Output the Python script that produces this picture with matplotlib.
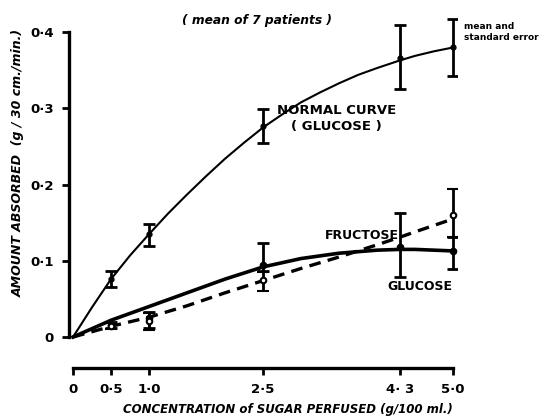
import matplotlib
matplotlib.use('Agg')
import matplotlib.pyplot as plt

# 数据：浓度 (g/100 ml) 与吸收量 (g/30 cm/min)
conc = [0.5, 1.0, 2.5, 4.3, 5.0]

# 正常曲线 (葡萄糖) 均值与误差上下限
normal_mean = [0.076, 0.135, 0.277, 0.366, 0.381]
normal_lo = [0.066, 0.119, 0.255, 0.325, 0.343]
normal_hi = [0.087, 0.148, 0.299, 0.409, 0.417]

# 患者 葡萄糖
glucose_mean = [0.016, 0.025, 0.094, 0.118, 0.113]
glucose_lo = [0.012, 0.012, 0.086, 0.079, 0.089]
glucose_hi = [0.020, 0.033, 0.123, 0.163, 0.131]

# 患者 果糖
fructose_x = [0.5, 1.0, 2.5, 5.0]
fructose_mean = [0.014, 0.021, 0.075, 0.160]
fructose_lo = [0.011, 0.009, 0.060, 0.131]
fructose_hi = [0.018, 0.031, 0.085, 0.194]

# 手绘拟合曲线
normal_cx = [0, 0.25, 0.5, 0.75, 1.0, 1.25, 1.5, 1.75, 2.0, 2.25, 2.5, 2.75, 3.0,
             3.25, 3.5, 3.75, 4.0, 4.3, 4.5, 4.75, 5.0]
normal_curve = [0, 0.039, 0.076, 0.107, 0.135, 0.162, 0.187, 0.211, 0.234, 0.255, 0.275,
                0.292, 0.308, 0.321, 0.333, 0.344, 0.353, 0.363, 0.369, 0.375, 0.380]
curve_x = [0, 0.5, 1.0, 1.5, 2.0, 2.5, 3.0, 3.5, 4.0, 4.3, 4.5, 5.0]
glucose_curve = [0, 0.022, 0.040, 0.058, 0.076, 0.092, 0.103, 0.110, 0.114, 0.115, 0.115, 0.113]
fructose_curve = [0, 0.014, 0.026, 0.041, 0.058, 0.074, 0.090, 0.105, 0.121, 0.131, 0.138, 0.155]

xticks = [0, 0.5, 1.0, 2.5, 4.3, 5.0]
xtick_labels = ['0', '0·5', '1·0', '2·5', '4· 3', '5·0']
yticks = [0, 0.1, 0.2, 0.3, 0.4]
ytick_labels = ['0', '0·1', '0·2', '0·3', '0·4']

plt.rcParams['font.family'] = ['DejaVu Sans']

fig = plt.figure(figsize=(5.42, 4.17), dpi=100)
ax = fig.add_axes([0.1277, 0.1187, 0.7151, 0.8405])
ax.set_xlim(-0.05, 5.05)
ax.set_ylim(-0.04, 0.42)


def err(mean, lo, hi):
    return [[m - l for m, l in zip(mean, lo)], [h - m for m, h in zip(mean, hi)]]


# 曲线
ax.plot(normal_cx, normal_curve, color='black', lw=1.5)
ax.plot(curve_x, glucose_curve, color='black', lw=2.6)
ax.plot(curve_x, fructose_curve, color='black', lw=2.4, dashes=(3.5, 2.2))

# 误差棒
ax.errorbar(conc, normal_mean, yerr=err(normal_mean, normal_lo, normal_hi), fmt='o',
            color='black', ms=3.5, elinewidth=2.0, capsize=4, capthick=2.0)
ax.errorbar(conc, glucose_mean, yerr=err(glucose_mean, glucose_lo, glucose_hi), fmt='o',
            color='black', ms=4.5, elinewidth=2.0, capsize=4, capthick=2.0)
ax.errorbar(fructose_x, fructose_mean, yerr=err(fructose_mean, fructose_lo, fructose_hi), fmt='o',
            color='black', mfc='white', mew=1.5, ms=4, elinewidth=2.0, capsize=4, capthick=2.0)

# 坐标轴样式
for s in ['top', 'right']:
    ax.spines[s].set_visible(False)
ax.spines['left'].set_bounds(0, 0.4)
ax.spines['left'].set_linewidth(2.4)
ax.spines['left'].set_position(('data', -0.05))
ax.spines['bottom'].set_bounds(0, 5.0)
ax.spines['bottom'].set_linewidth(2.4)

ax.set_xticks(xticks)
ax.set_xticklabels(xtick_labels, fontsize=9.5, fontweight='bold')
ax.set_yticks(yticks)
ax.set_yticklabels(ytick_labels, fontsize=9.5, fontweight='bold')
ax.tick_params(axis='both', length=5, width=2.0, direction='out', pad=6)

# 文字
ax.text(2.42, 0.416, '( mean of 7 patients )', ha='center', va='center',
        fontsize=8.8, fontweight='bold', style='italic')
ax.text(5.14, 0.400, 'mean and\nstandard error', ha='left', va='center',
        fontsize=6.5, fontweight='bold', linespacing=1.3)
ax.text(3.47, 0.287, 'NORMAL CURVE\n( GLUCOSE )', ha='center', va='center',
        fontsize=9.5, fontweight='bold', linespacing=1.3)
ax.text(3.31, 0.133, 'FRUCTOSE', ha='left', va='center', fontsize=9, fontweight='bold')
ax.text(4.57, 0.066, 'GLUCOSE', ha='center', va='center', fontsize=9, fontweight='bold')

fig.text(0.033, 0.609, 'AMOUNT ABSORBED  (g / 30 cm./min.)', rotation=90, ha='center', va='center',
         fontsize=9, fontweight='bold', style='italic')
fig.text(0.531, 0.017, 'CONCENTRATION of SUGAR PERFUSED (g/100 ml.)', ha='center', va='center',
         fontsize=8.5, fontweight='bold', style='italic')

fig.savefig('out.png', dpi=100)
